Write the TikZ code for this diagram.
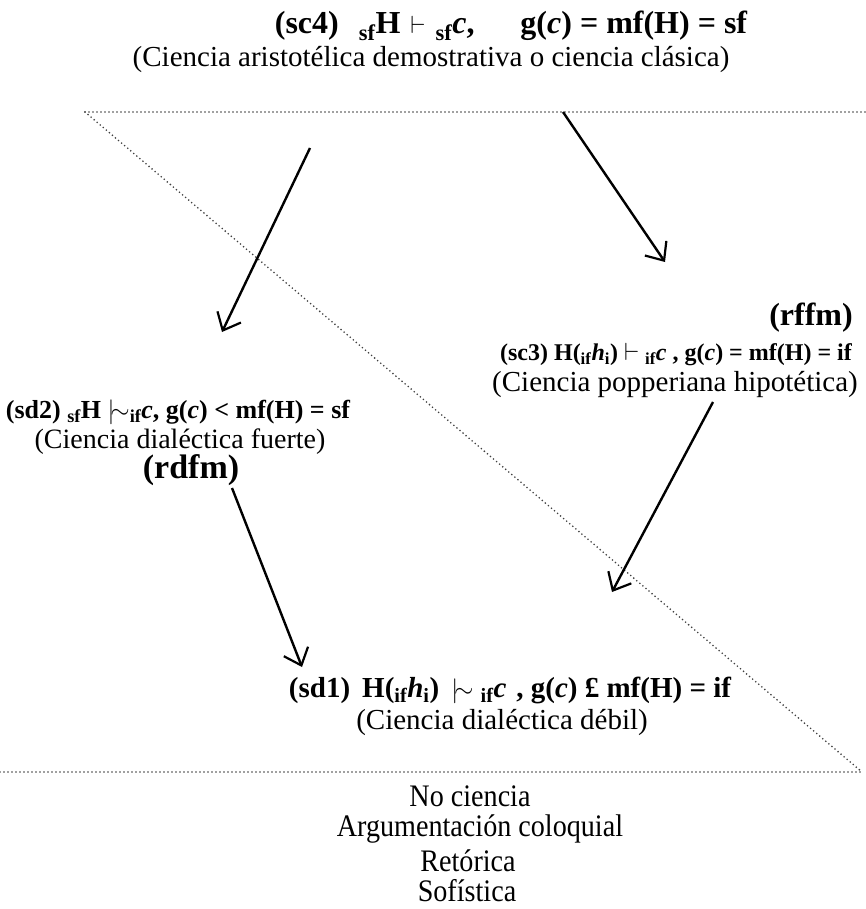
\documentclass[tikz,border=0pt]{standalone}
\usepackage{fontspec}
\setmainfont{Liberation Serif}
\usetikzlibrary{arrows.meta}
\newcommand{\pre}[1]{\textsubscript{\normalfont\bfseries #1}}
\newcommand{\nmsim}{$\mid\!\sim$}
\begin{document}
\begin{tikzpicture}[x=1pt,y=-1pt,
  txt/.style={font=\fontsize{29}{31}\selectfont, inner sep=0pt},
  low/.style={font=\fontsize{29}{31}\selectfont, inner sep=0pt, yscale=1.08, xscale=0.97},
  frm/.style={font=\fontsize{32}{34}\selectfont\bfseries, inner sep=0pt},
  dotline/.style={line width=1.8pt, black!75, line cap=round, dash pattern=on 0pt off 4pt},
  arr/.style={line width=2.4pt, -{Straight Barb[length=15pt,width=26pt,line width=2.2pt]}}]
\useasboundingbox (0,0) rectangle (865,909);
% dotted lines
\coordinate (tl) at (85,112);
\coordinate (tr) at (865,112);
\coordinate (bl) at (0,772);
\coordinate (br) at (862,772);
\draw[dotline] (tl) -- (tr);
\draw[dotline] (tl) -- (br);
\draw[dotline] (bl) -- (br);
% texts
\node[frm] (sc4) at (511,26) {(sc4)\hspace{20pt}\pre{sf}H\hspace{10pt}$\vdash$\hspace{10pt}\pre{sf}\textit{c},\hspace{46pt}g(\textit{c}) = mf(H) = sf};
\node[txt] (aris) at (431,60) {(Ciencia aristotélica demostrativa o ciencia clásica)};
\node[frm] (rffm) at (811,318) {(rffm)};
\node[frm, font=\fontsize{24}{26}\selectfont\bfseries] (sc3) at (676,355) {(sc3) H(\pre{if}\textit{h}\pre{i}) $\vdash$ \pre{if}\textit{c}\hspace{6pt}, g(\textit{c}) = mf(H) = if};
\node[txt] (pop) at (675,385) {(Ciencia popperiana hipotética)};
\node[frm, font=\fontsize{26}{28}\selectfont\bfseries] (sd2) at (178,412) {(sd2) \pre{sf}H \nmsim\pre{if}\textit{c}, g(\textit{c}) < mf(H) = sf};
\node[txt, font=\fontsize{28}{30}\selectfont] (fuer) at (180,442) {(Ciencia dialéctica fuerte)};
\node[frm, font=\fontsize{34}{36}\selectfont\bfseries] (rdfm) at (191,470) {(rdfm)};
\node[frm, font=\fontsize{29}{31}\selectfont\bfseries] (sd1) at (510,690) {(sd1)\hspace{12pt}H(\pre{if}\textit{h}\pre{i})\hspace{12pt}\nmsim\ \pre{if}\textit{c}\hspace{10pt}, g(\textit{c}) £ mf(H) = if};
\node[txt] (deb) at (502,722) {(Ciencia dialéctica débil)};
\node[low] (nc) at (470,796) {No ciencia};
\node[low] (arg) at (480,829) {Argumentación coloquial};
\node[low] (ret) at (468,861) {Retórica};
\node[low] (sof) at (467,891) {Sofística};
% arrows
\coordinate (a1s) at (310,148);
\coordinate (a1e) at (222,332);
\coordinate (a2s) at (563,112);
\coordinate (a2e) at (665,262);
\coordinate (a3s) at (713,402);
\coordinate (a3e) at (612,592);
\coordinate (a4s) at (232,488);
\coordinate (a4e) at (302,667);
\draw[arr] (a1s) -- (a1e);
\draw[arr] (a2s) -- (a2e);
\draw[arr] (a3s) -- (a3e);
\draw[arr] (a4s) -- (a4e);
\end{tikzpicture}
\end{document}
